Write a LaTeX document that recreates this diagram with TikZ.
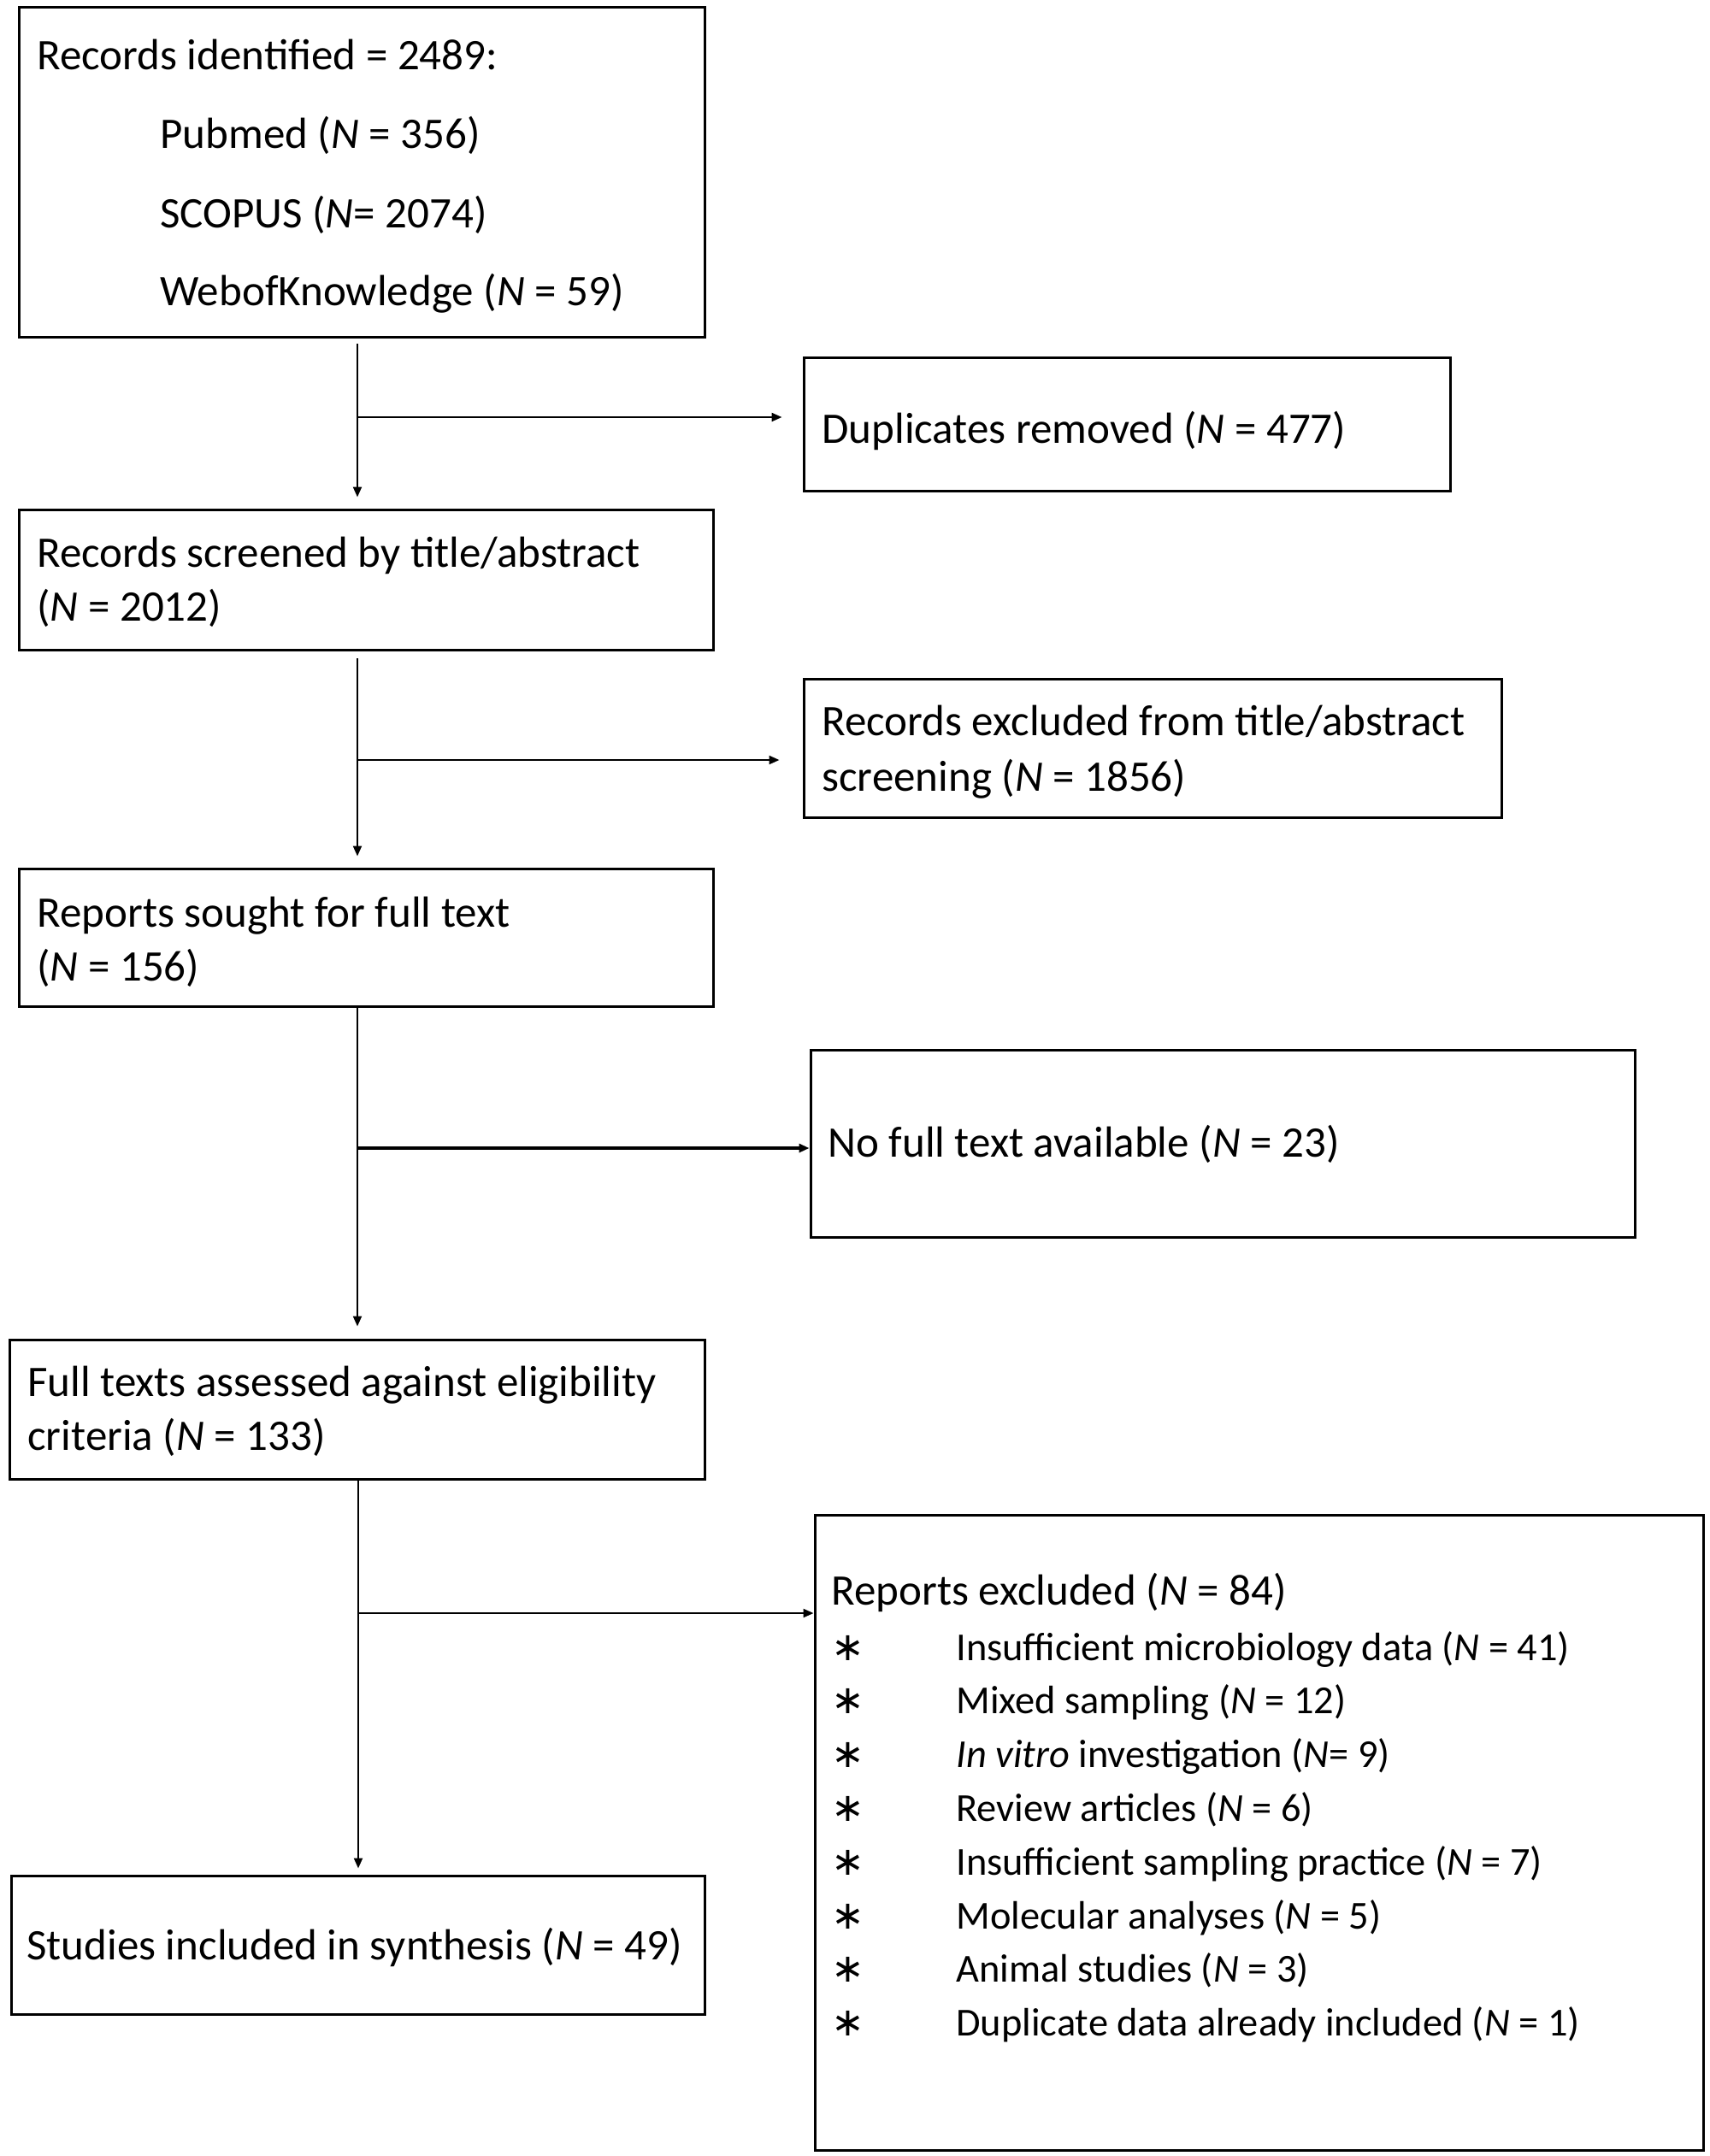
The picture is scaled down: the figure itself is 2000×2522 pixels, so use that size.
\documentclass[tikz,border=0pt]{standalone}
\usepackage{fontspec}
\setmainfont{Carlito}
\newfontfamily\symfont{DejaVu Sans}
\usetikzlibrary{arrows.meta,fit}
\tikzset{
  box/.style={draw, line width=1.5pt, inner sep=0pt, fit={#1}},
  txt/.style={anchor=base west, inner sep=0pt, font=\fontsize{25.5pt}{31.5pt}\selectfont},
  itemtxt/.style={anchor=base west, inner sep=0pt, font=\fontsize{23.2pt}{29pt}\selectfont},
  conn/.style={line width=1.1pt},
  arr/.style={line width=1.1pt, -{Triangle[length=6pt,width=5pt]}},
}
\newcommand{\NN}{\textit{N}}
\begin{document}
\begin{tikzpicture}[x=0.5pt,y=-0.5pt]
\useasboundingbox[fill=white] (0,0) rectangle (2000,2522);
% boxes
\node[box={(22,8) (824,394)}] (b1) {};
\node[box={(940,418) (1696,574)}] (dup) {};
\node[box={(22,596) (834,760)}] (b2) {};
\node[box={(940,794) (1756,956)}] (exc) {};
\node[box={(22,1016) (834,1177)}] (b3) {};
\node[box={(948,1228) (1912,1447)}] (nft) {};
\node[box={(11,1567) (824,1730)}] (b4) {};
\node[box={(953,1772) (1992,2515)}] (rep) {};
\node[box={(13,2194) (824,2356)}] (b5) {};
% texts
\node[txt] (t1a) at (43,81) {Records identified = 2489:};
\node[txt] (t1b) at (187,173) {Pubmed (\NN{} = 356)};
\node[txt] (t1c) at (187,266) {SCOPUS (\NN= 2074)};
\node[txt] (t1d) at (187,357) {WebofKnowledge (\NN{} = 59)};
\node[txt] (tdup) at (961,518) {Duplicates removed (\NN{} = 477)};
\node[txt] (t2a) at (43,663) {Records screened by title/abstract};
\node[txt] (t2b) at (43,726) {(\NN{} = 2012)};
\node[txt] (texa) at (961,860) {Records excluded from title/abstract};
\node[txt] (texb) at (961,925) {screening (\NN{} = 1856)};
\node[txt] (t3a) at (43,1084) {Reports sought for full text};
\node[txt] (t3b) at (43,1147) {(\NN{} = 156)};
\node[txt] (tnft) at (968,1353) {No full text available (\NN{} = 23)};
\node[txt] (t4a) at (32,1633) {Full texts assessed against eligibility};
\node[txt] (t4b) at (32,1696) {criteria (\NN{} = 133)};
\node[txt] (t5) at (31,2292) {Studies included in synthesis (\NN{} = 49)};
\node[txt] (trep) at (972,1877) {Reports excluded (\NN{} = 84)};
\foreach \i/\t in {0/{Insufficient microbiology data (\NN{} = 41)},
                   1/{Mixed sampling (\NN{} = 12)},
                   2/{\textit{In vitro} investigation (\NN= 9)},
                   3/{Review articles (\NN{} = 6)},
                   4/{Insufficient sampling practice (\NN{} = 7)},
                   5/{Molecular analyses (\NN{} = 5)},
                   6/{Animal studies (\NN{} = 3)},
                   7/{Duplicate data already included (\NN{} = 1)}}{
  \node[itemtxt] (bul\i) at (972,1942+62.8*\i) {\symfont ∗};
  \node[itemtxt] (item\i) at (1118,1942+62.8*\i) {\t};
}
% connectors
\coordinate (a1) at (418,402);
\coordinate (j1) at (418,488);
\draw[arr, shorten >=6.5pt] (a1) -- (b2.north -| a1);
\draw[arr, shorten >=12pt] (j1) -- (j1 -| dup.west);
\coordinate (a2) at (418,770);
\coordinate (j2) at (418,889);
\draw[arr, shorten >=6.5pt] (a2) -- (b3.north -| a2);
\draw[arr, shorten >=13.5pt] (j2) -- (j2 -| exc.west);
\coordinate (a3) at (418,1177);
\coordinate (j3) at (418,1343);
\draw[arr, shorten >=7pt] (a3) -- (b4.north -| a3);
\draw[arr, line width=1.6pt] (j3) -- (j3 -| nft.west);
\coordinate (a4) at (419,1730);
\coordinate (j4) at (419,1887);
\draw[arr, shorten >=3.5pt] (a4) -- (b5.north -| a4);
\draw[arr] (j4) -- (j4 -| rep.west);
\end{tikzpicture}
\end{document}
